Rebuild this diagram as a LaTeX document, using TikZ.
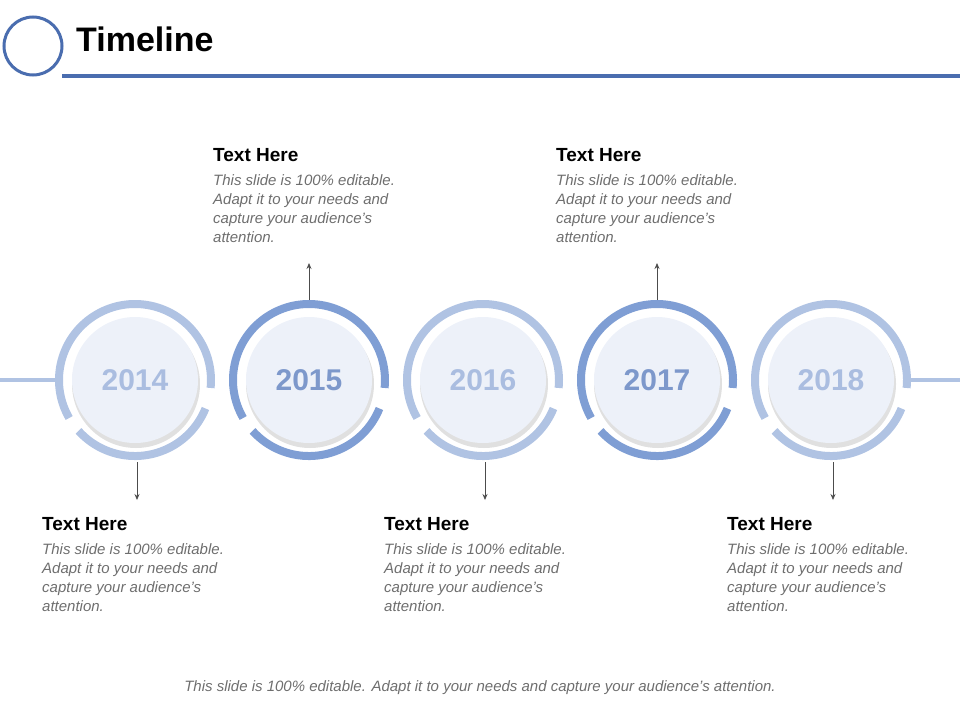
\documentclass[tikz,border=0pt]{standalone}
\usepackage{fontspec}
\setmainfont{Liberation Sans}
\setsansfont{Liberation Sans}
\usetikzlibrary{arrows.meta}
\definecolor{lite}{HTML}{B0C3E3}
\definecolor{dark}{HTML}{7F9ED4}
\definecolor{litetxt}{HTML}{AABDE0}
\definecolor{darktxt}{HTML}{7D98CB}
\definecolor{diskfill}{HTML}{EDF1F9}
\definecolor{hdr}{HTML}{4A6DAF}
\definecolor{body}{HTML}{6E6E6E}
\tikzset{
  title/.style={anchor=west,font=\fontsize{19}{22}\selectfont\bfseries,text=black,inner sep=0},
  bodytext/.style={anchor=north west,align=left,font=\fontsize{15}{19}\selectfont\itshape,text=body,inner sep=0},
  conn/.style={draw=black!70,line width=0.8pt,-{Stealth[length=6pt,width=5pt]}},
  yeartxt/.style={font=\fontsize{30}{32}\selectfont\bfseries}
}
\newcommand{\yearring}[4]{% x, colour, text colour, label
  \fill[black!12] (#1+1,384) circle (64);
  \fill[diskfill] (#1,380) circle (63);
  \draw[#2,line width=8pt] ([shift={(150:76)}]#1,380) arc[start angle=150,end angle=366,radius=76];
  \draw[#2,line width=8pt] ([shift={(22:76)}]#1,380) arc[start angle=22,end angle=138,radius=76];
  \node[yeartxt,text=#3] (y#4) at (#1,380) {#4};
  \coordinate (t#4) at (#1,300);
  \coordinate (b#4) at (#1,460);
}
\begin{document}
\begin{tikzpicture}[x=1pt,y=-1pt]
\useasboundingbox (0,0) rectangle (960,720);
% header
\draw[hdr,line width=3.5pt] (62,76) -- (960,76);
\draw[hdr,line width=3pt,fill=white] (33,46) circle (29);
\node[anchor=west,font=\fontsize{34}{36}\selectfont\bfseries,inner sep=0] (ttl) at (76,39) {Timeline};
% side lines
\draw[lite,line width=4pt] (0,380) -- (57,380);
\draw[lite,line width=4pt] (909,380) -- (960,380);
\yearring{135}{lite}{litetxt}{2014}
\yearring{309}{dark}{darktxt}{2015}
\yearring{483}{lite}{litetxt}{2016}
\yearring{657}{dark}{darktxt}{2017}
\yearring{831}{lite}{litetxt}{2018}
% arrows
\coordinate (a2015) at (309,263);
\coordinate (a2017) at (657,263);
\coordinate (a2014) at (137,500);
\coordinate (a2016) at (485,500);
\coordinate (a2018) at (833,500);
\draw[conn] (309,300) -- (a2015);
\draw[conn] (657,300) -- (a2017);
\draw[conn] (137,462) -- (a2014);
\draw[conn] (485,462) -- (a2016);
\draw[conn] (833,462) -- (a2018);
% texts
\newcommand{\bodytxt}{This slide is 100\% editable.\\Adapt it to your needs and\\capture your audience's\\attention.}
\node[title] (h1) at (213,155) {Text Here};
\node[bodytext] (p1) at (213,174) {\bodytxt};
\node[title] (h2) at (556,155) {Text Here};
\node[bodytext] (p2) at (556,174) {\bodytxt};
\node[title] (h3) at (42,524) {Text Here};
\node[bodytext] (p3) at (42,543) {\bodytxt};
\node[title] (h4) at (384,524) {Text Here};
\node[bodytext] (p4) at (384,543) {\bodytxt};
\node[title] (h5) at (727,524) {Text Here};
\node[bodytext] (p5) at (727,543) {\bodytxt};
\node[font=\fontsize{15}{18}\selectfont\itshape,text=body] (ft) at (480,688) {This slide is 100\% editable. Adapt it to your needs and capture your audience's attention.};
\end{tikzpicture}
\end{document}
